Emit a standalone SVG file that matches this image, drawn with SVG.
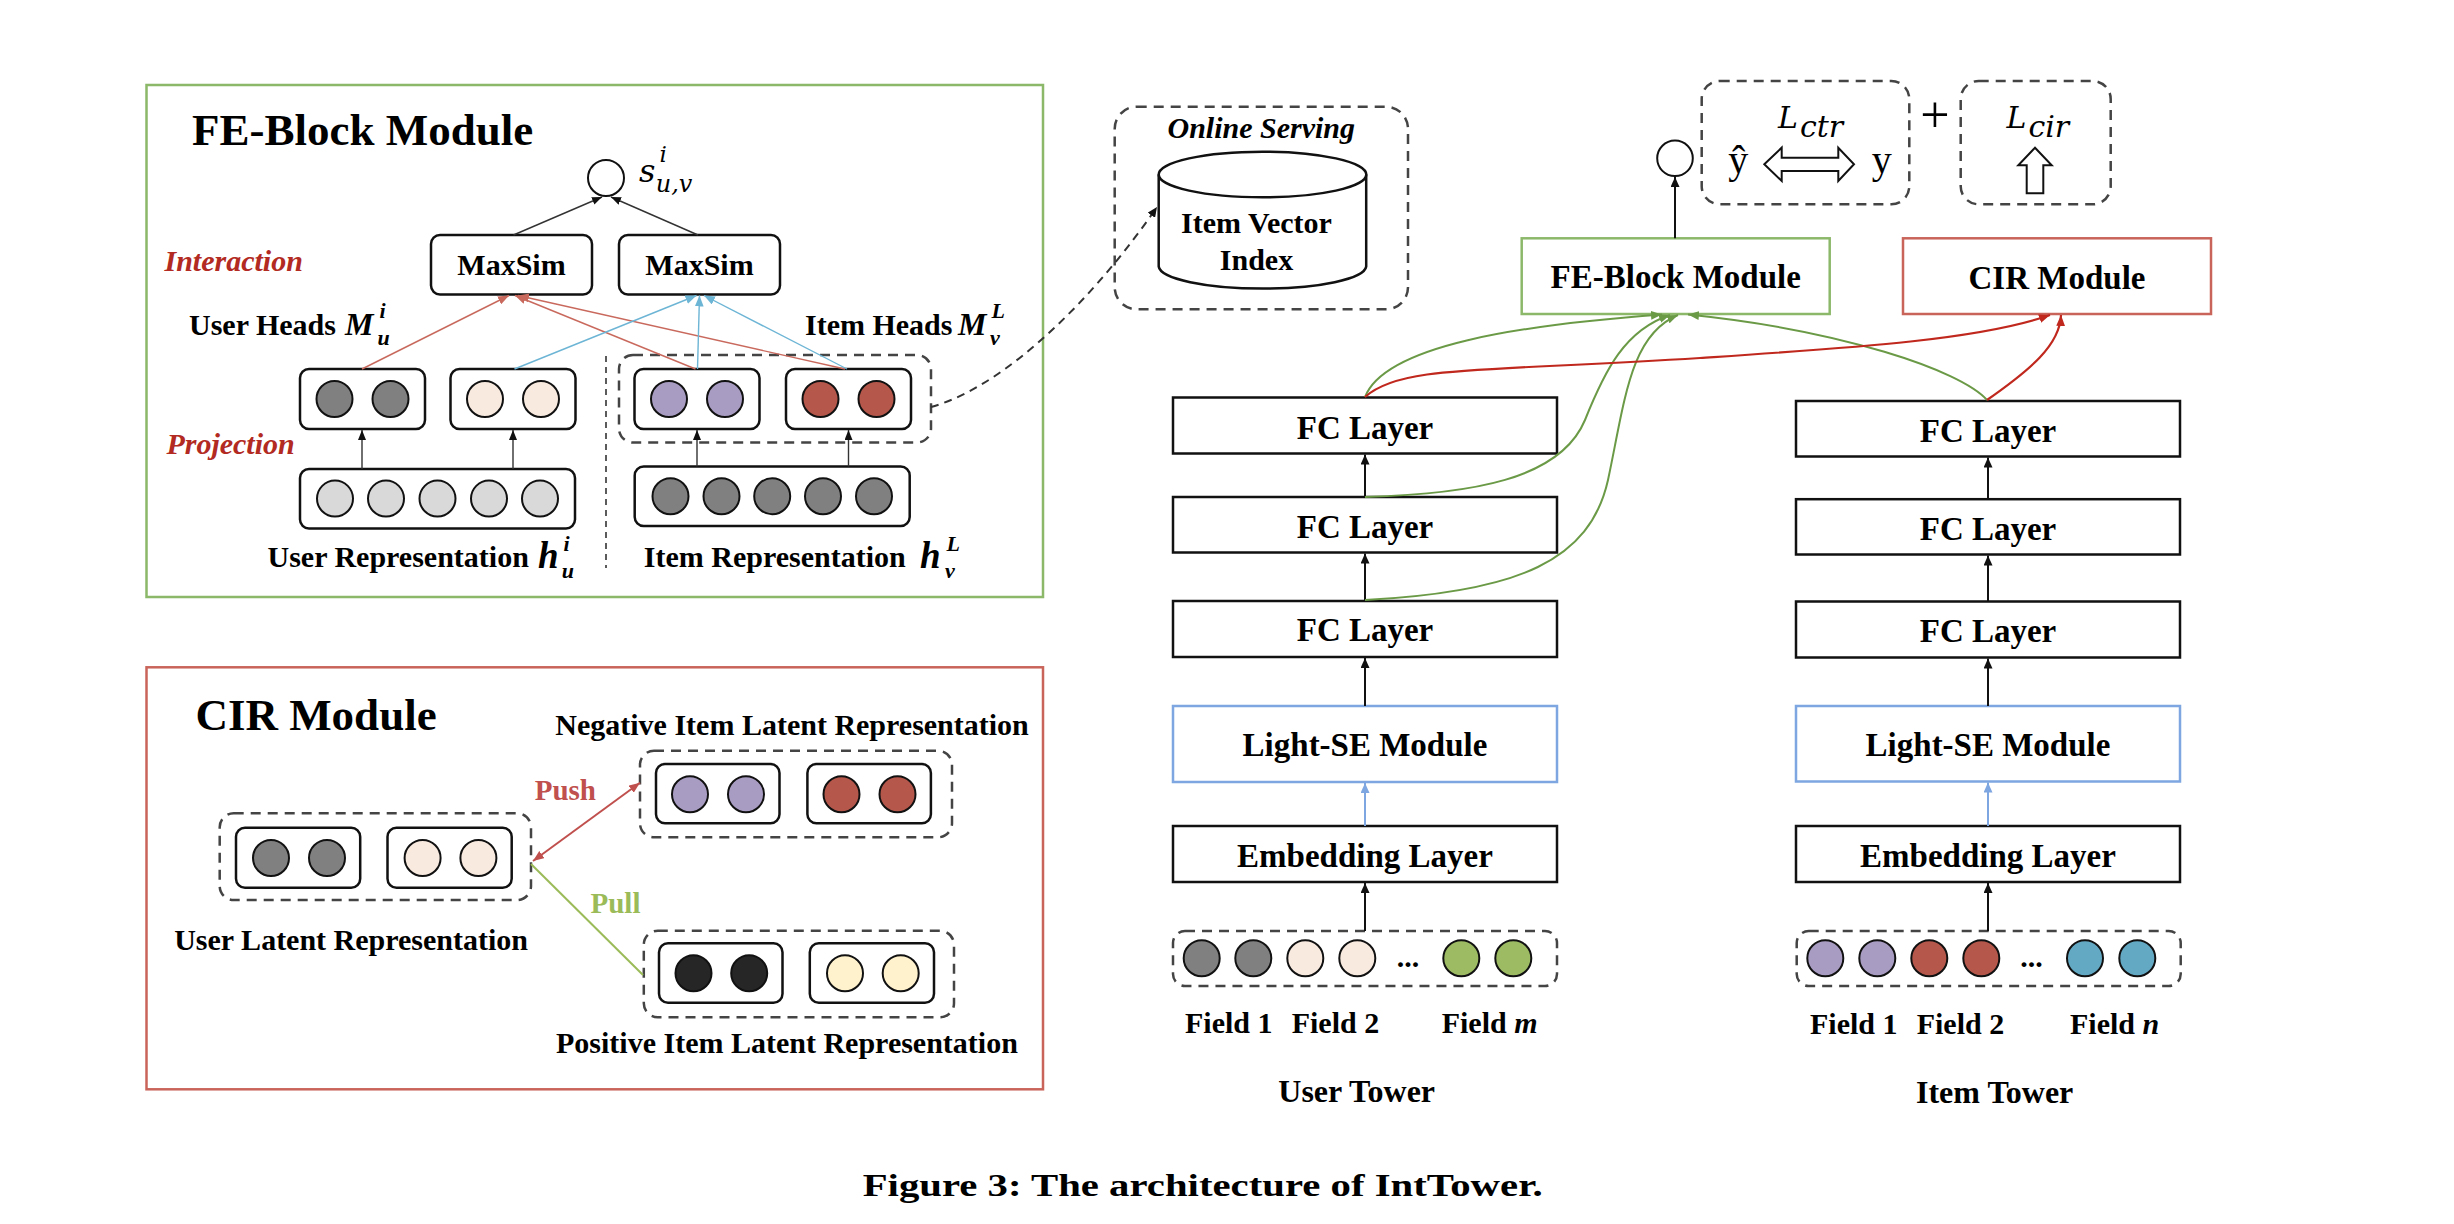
<svg xmlns="http://www.w3.org/2000/svg" width="2454" height="1224" viewBox="0 0 2454 1224">
<defs>
<style>
text{font-family:"Liberation Serif","Times New Roman",serif;fill:#000}
.t30{font-size:30px;font-weight:bold}
.t33{font-size:33px;font-weight:bold}
.title{font-size:45px;font-weight:bold}
.lab{font-size:30px;font-weight:bold;font-style:italic;fill:#b22a22}
.mb{font-weight:bold;font-style:italic}
.mi{font-family:"DejaVu Serif",serif;font-style:italic}
.box{fill:#fff;stroke:#111;stroke-width:2.5}
.rb{fill:#fff;stroke:#111;stroke-width:2.5}
.dash{fill:none;stroke:#444;stroke-width:2.5;stroke-dasharray:10 7}
.cc{stroke:#111;stroke-width:2}
.dg{fill:#808080}.lg{fill:#d9d9d9}.pe{fill:#f9eadf}.lv{fill:#a89cc2}.rd{fill:#b5574b}.gr{fill:#9dbb62}.tl{fill:#63a9c4}.bk{fill:#262626}.cr{fill:#fff2cc}
.ar{fill:none;stroke:#111;stroke-width:2;marker-end:url(#ak)}
.thin{fill:none;stroke:#333;stroke-width:1.4;marker-end:url(#aks)}
.rl{fill:none;stroke:#c9695d;stroke-width:1.4;marker-end:url(#ars)}
.bl{fill:none;stroke:#6db5d5;stroke-width:1.4;marker-end:url(#abs)}
.gc{fill:none;stroke:#6b9a47;stroke-width:2;marker-end:url(#ag)}
.rc{fill:none;stroke:#c0281e;stroke-width:2.2;marker-end:url(#arc)}
</style>
<marker id="ak" viewBox="0 0 10 9" refX="10" refY="4.5" markerWidth="10" markerHeight="9" markerUnits="userSpaceOnUse" orient="auto"><path d="M0,0L10,4.5L0,9z" fill="#111"/></marker>
<marker id="akb" viewBox="0 0 10 9" refX="10" refY="4.5" markerWidth="10" markerHeight="9" markerUnits="userSpaceOnUse" orient="auto"><path d="M0,0L10,4.5L0,9z" fill="#7ea6e0"/></marker>
<marker id="aks" viewBox="0 0 10 8" refX="10" refY="4" markerWidth="10" markerHeight="8" markerUnits="userSpaceOnUse" orient="auto"><path d="M0,0L10,4L0,8z" fill="#111"/></marker>
<marker id="ars" viewBox="0 0 10 8" refX="10" refY="4" markerWidth="11" markerHeight="9" markerUnits="userSpaceOnUse" orient="auto"><path d="M0,0L10,4L0,8z" fill="#c9695d"/></marker>
<marker id="abs" viewBox="0 0 10 8" refX="10" refY="4" markerWidth="11" markerHeight="9" markerUnits="userSpaceOnUse" orient="auto"><path d="M0,0L10,4L0,8z" fill="#6db5d5"/></marker>
<marker id="ag" viewBox="0 0 10 8" refX="10" refY="4" markerWidth="11" markerHeight="9" markerUnits="userSpaceOnUse" orient="auto"><path d="M0,0L10,4L0,8z" fill="#6b9a47"/></marker>
<marker id="arc" viewBox="0 0 10 8" refX="10" refY="4" markerWidth="11" markerHeight="9" markerUnits="userSpaceOnUse" orient="auto"><path d="M0,0L10,4L0,8z" fill="#c0281e"/></marker>
<marker id="ap" viewBox="0 0 10 8" refX="10" refY="4" markerWidth="11" markerHeight="9" markerUnits="userSpaceOnUse" orient="auto-start-reverse"><path d="M0,0L10,4L0,8z" fill="#c0504d"/></marker>
</defs>
<rect width="2454" height="1224" fill="#fff"/>

<!-- FE-Block panel -->
<g id="fe-panel">
<rect x="146.5" y="85" width="896.5" height="512" fill="none" stroke="#8cb86a" stroke-width="2.5"/>
<text x="192" y="144.5" class="title">FE-Block Module</text>
<text x="164.5" y="271" class="lab">Interaction</text>
<text x="166.4" y="454" class="lab">Projection</text>
</g>
<g id="score">
<circle cx="606" cy="178" r="18" fill="#fff" class="cc"/>
<text x="639" y="182" class="mi" font-size="32">s<tspan font-size="23" dx="4" dy="-20">i</tspan><tspan font-size="24" dx="-11" dy="30">u,v</tspan></text>
</g>
<g id="maxsim1"><rect x="431" y="235" width="161" height="59.5" rx="9" class="rb"/><text x="511.5" y="275" class="t30" text-anchor="middle">MaxSim</text></g>
<g id="maxsim2"><rect x="619" y="235" width="161" height="59.5" rx="9" class="rb"/><text x="699.5" y="275" class="t30" text-anchor="middle">MaxSim</text></g>
<g id="user-heads-label">
<text x="189" y="335" class="t30">User Heads</text>
<text x="345" y="335" class="mb" font-size="32">M<tspan font-size="22" dx="6" dy="-17">i</tspan><tspan font-size="22" dx="-8" dy="27">u</tspan></text>
</g>
<g id="item-heads-label">
<text x="805" y="335" class="t30">Item Heads</text>
<text x="958" y="335" class="mb" font-size="32">M<tspan font-size="22" dx="5" dy="-17">L</tspan><tspan font-size="22" dx="-15" dy="27">v</tspan></text>
</g>
<g id="user-heads">
<rect x="300" y="369" width="125" height="60" rx="9" class="rb"/>
<circle cx="334.5" cy="399" r="18" class="dg cc"/><circle cx="390.5" cy="399" r="18" class="dg cc"/>
<rect x="450.5" y="369" width="125" height="60" rx="9" class="rb"/>
<circle cx="485" cy="399" r="18" class="pe cc"/><circle cx="541" cy="399" r="18" class="pe cc"/>
</g>
<g id="item-heads">
<rect x="619" y="355" width="312" height="87.5" rx="14" class="dash"/>
<rect x="634.5" y="369" width="125" height="60" rx="9" class="rb"/>
<circle cx="669" cy="399" r="18" class="lv cc"/><circle cx="725" cy="399" r="18" class="lv cc"/>
<rect x="786" y="369" width="125" height="60" rx="9" class="rb"/>
<circle cx="820.5" cy="399" r="18" class="rd cc"/><circle cx="876.5" cy="399" r="18" class="rd cc"/>
</g>
<g id="user-repr">
<rect x="300" y="469" width="275" height="59.5" rx="9" class="rb"/>
<circle cx="335" cy="498.6" r="18" class="lg cc"/><circle cx="386" cy="498.6" r="18" class="lg cc"/><circle cx="437.5" cy="498.6" r="18" class="lg cc"/><circle cx="489" cy="498.6" r="18" class="lg cc"/><circle cx="540" cy="498.6" r="18" class="lg cc"/>
<text x="267.5" y="567.4" class="t30">User Representation</text>
<text x="538" y="568" class="mb" font-size="37">h<tspan font-size="22" dx="5" dy="-17">i</tspan><tspan font-size="22" dx="-8" dy="27">u</tspan></text>
</g>
<g id="item-repr">
<rect x="634.7" y="466.5" width="275" height="59.5" rx="9" class="rb"/>
<circle cx="670.5" cy="496.2" r="18" class="dg cc"/><circle cx="721.5" cy="496.2" r="18" class="dg cc"/><circle cx="772.2" cy="496.2" r="18" class="dg cc"/><circle cx="823" cy="496.2" r="18" class="dg cc"/><circle cx="874" cy="496.2" r="18" class="dg cc"/>
<text x="643.8" y="567.4" class="t30">Item Representation</text>
<text x="920" y="568" class="mb" font-size="37">h<tspan font-size="22" dx="6" dy="-17">L</tspan><tspan font-size="22" dx="-15" dy="27">v</tspan></text>
</g>

<!-- CIR panel -->
<g id="cir-panel">
<rect x="146.5" y="667.3" width="896.5" height="422" fill="none" stroke="#c9645a" stroke-width="2.5"/>
<text x="195.4" y="730" class="title">CIR Module</text>
</g>
<g id="neg-latent">
<text x="555.3" y="735" class="t30">Negative Item Latent Representation</text>
<rect x="640" y="750.7" width="312" height="86.6" rx="14" class="dash"/>
<rect x="656" y="764" width="123.5" height="59.3" rx="9" class="rb"/>
<circle cx="690" cy="794.3" r="18" class="lv cc"/><circle cx="746" cy="794.3" r="18" class="lv cc"/>
<rect x="807.4" y="764" width="123.5" height="59.3" rx="9" class="rb"/>
<circle cx="841.5" cy="794.3" r="18" class="rd cc"/><circle cx="897.5" cy="794.3" r="18" class="rd cc"/>
</g>
<g id="user-latent">
<rect x="219.7" y="813.3" width="311.3" height="86.7" rx="14" class="dash"/>
<rect x="236" y="827.7" width="124.2" height="60" rx="9" class="rb"/>
<circle cx="271" cy="858" r="18" class="dg cc"/><circle cx="327" cy="858" r="18" class="dg cc"/>
<rect x="387.5" y="827.7" width="124.2" height="60" rx="9" class="rb"/>
<circle cx="422.6" cy="858" r="18" class="pe cc"/><circle cx="478.4" cy="858" r="18" class="pe cc"/>
<text x="174.2" y="950" class="t30">User Latent Representation</text>
</g>
<g id="pos-latent">
<rect x="643.8" y="930.7" width="310.2" height="86.6" rx="14" class="dash"/>
<rect x="659" y="943.3" width="123.5" height="59.4" rx="9" class="rb"/>
<circle cx="693.5" cy="973.3" r="18" class="bk cc"/><circle cx="749.2" cy="973.3" r="18" class="bk cc"/>
<rect x="809.8" y="943.3" width="124.2" height="59.4" rx="9" class="rb"/>
<circle cx="845" cy="973.3" r="18" class="cr cc"/><circle cx="900.7" cy="973.3" r="18" class="cr cc"/>
<text x="556" y="1053.3" class="t30">Positive Item Latent Representation</text>
</g>

<!-- Online serving -->
<g id="online-serving">
<rect x="1114.7" y="106.7" width="293.3" height="202.6" rx="22" class="dash"/>
<text x="1167.5" y="138.3" font-size="30" font-weight="bold" font-style="italic">Online Serving</text>
<path d="M1158.7,174.5 L1158.7,266.5 A103.8,22.8 0 0 0 1366.2,266.5 L1366.2,174.5" fill="#fff" stroke="#111" stroke-width="2.5"/>
<ellipse cx="1262.5" cy="174.5" rx="103.8" ry="22.8" fill="#fff" stroke="#111" stroke-width="2.5"/>
<text x="1256.5" y="233.3" class="t30" text-anchor="middle">Item Vector</text>
<text x="1256.5" y="270" class="t30" text-anchor="middle">Index</text>
</g>

<!-- Loss -->
<g id="output">
<circle cx="1675" cy="158.3" r="17.8" fill="#fff" class="cc"/>
</g>
<g id="loss-ctr">
<rect x="1701.7" y="81" width="207.6" height="123.3" rx="18" class="dash"/>
<text x="1778" y="127.7" class="mi" font-size="30">L<tspan font-size="30" dx="2" dy="9">ctr</tspan></text>
<text x="1728.3" y="172.7" font-size="40">ŷ</text>
<polygon points="1764.3,164.3 1781.7,147.7 1781.7,157.7 1838.3,157.7 1838.3,147.7 1854,164.3 1838.3,181 1838.3,171 1781.7,171 1781.7,181" fill="#fff" stroke="#111" stroke-width="2"/>
<text x="1871.7" y="172.7" font-size="40">y</text>
</g>
<text x="1935" y="131.5" font-size="52" text-anchor="middle">+</text>
<g id="loss-cir">
<rect x="1960.7" y="81" width="150" height="123.3" rx="18" class="dash"/>
<text x="2006.5" y="127.7" class="mi" font-size="30">L<tspan font-size="30" dx="2" dy="9">cir</tspan></text>
<polygon points="2035,147.7 2051.7,165.3 2043.3,165.3 2043.3,193.3 2026.7,193.3 2026.7,165.3 2018.3,165.3" fill="#fff" stroke="#111" stroke-width="2"/>
</g>
<g id="fe-block"><rect x="1521.7" y="238.3" width="308" height="75.7" fill="#fff" stroke="#8cb86a" stroke-width="2.5"/><text x="1675.7" y="287.7" class="t33" text-anchor="middle">FE-Block Module</text></g>
<g id="cir-module"><rect x="1903" y="238.3" width="308" height="75.7" fill="#fff" stroke="#c9645a" stroke-width="2.5"/><text x="2057" y="289" class="t33" text-anchor="middle">CIR Module</text></g>

<!-- User tower -->
<g id="u-fc1"><rect x="1173" y="397.5" width="384" height="56" class="box"/><text x="1365" y="438.5" class="t33" text-anchor="middle">FC Layer</text></g>
<g id="u-fc2"><rect x="1173" y="497" width="384" height="55.5" class="box"/><text x="1365" y="537.5" class="t33" text-anchor="middle">FC Layer</text></g>
<g id="u-fc3"><rect x="1173" y="601" width="384" height="56" class="box"/><text x="1365" y="641" class="t33" text-anchor="middle">FC Layer</text></g>
<g id="u-se"><rect x="1173" y="706" width="384" height="76" fill="#fff" stroke="#7ea6e0" stroke-width="2.5"/><text x="1365" y="756" class="t33" text-anchor="middle">Light-SE Module</text></g>
<g id="u-emb"><rect x="1173" y="826" width="384" height="56" class="box"/><text x="1365" y="867" class="t33" text-anchor="middle">Embedding Layer</text></g>
<g id="u-fields">
<rect x="1173" y="931" width="384" height="55" rx="12" class="dash"/>
<circle cx="1201.7" cy="958.3" r="18" class="dg cc"/><circle cx="1253.3" cy="958.3" r="18" class="dg cc"/>
<circle cx="1305.3" cy="958.3" r="18" class="pe cc"/><circle cx="1357.3" cy="958.3" r="18" class="pe cc"/>
<text x="1408" y="967" class="t30" text-anchor="middle">...</text>
<circle cx="1461.3" cy="958.3" r="18" class="gr cc"/><circle cx="1513.3" cy="958.3" r="18" class="gr cc"/>
<text x="1185" y="1033" class="t30">Field 1</text>
<text x="1291.7" y="1033" class="t30">Field 2</text>
<text x="1441.7" y="1033" class="t30">Field <tspan font-style="italic">m</tspan></text>
<text x="1278.3" y="1102" font-size="32" font-weight="bold">User Tower</text>
</g>

<!-- Item tower -->
<g id="i-fc1"><rect x="1796" y="401" width="384" height="55.5" class="box"/><text x="1988" y="441.5" class="t33" text-anchor="middle">FC Layer</text></g>
<g id="i-fc2"><rect x="1796" y="499.2" width="384" height="55.3" class="box"/><text x="1988" y="539.5" class="t33" text-anchor="middle">FC Layer</text></g>
<g id="i-fc3"><rect x="1796" y="601.5" width="384" height="56" class="box"/><text x="1988" y="642" class="t33" text-anchor="middle">FC Layer</text></g>
<g id="i-se"><rect x="1796" y="706" width="384" height="75.5" fill="#fff" stroke="#7ea6e0" stroke-width="2.5"/><text x="1988" y="756" class="t33" text-anchor="middle">Light-SE Module</text></g>
<g id="i-emb"><rect x="1796" y="826" width="384" height="56" class="box"/><text x="1988" y="867" class="t33" text-anchor="middle">Embedding Layer</text></g>
<g id="i-fields">
<rect x="1796.7" y="931" width="384" height="55" rx="12" class="dash"/>
<circle cx="1825.3" cy="958.3" r="18" class="lv cc"/><circle cx="1877.3" cy="958.3" r="18" class="lv cc"/>
<circle cx="1929.3" cy="958.3" r="18" class="rd cc"/><circle cx="1981.3" cy="958.3" r="18" class="rd cc"/>
<text x="2031.5" y="967" class="t30" text-anchor="middle">...</text>
<circle cx="2085" cy="958.3" r="18" class="tl cc"/><circle cx="2137.3" cy="958.3" r="18" class="tl cc"/>
<text x="1810" y="1034.4" class="t30">Field 1</text>
<text x="1916.7" y="1034.4" class="t30">Field 2</text>
<text x="2070" y="1034.4" class="t30">Field <tspan font-style="italic">n</tspan></text>
<text x="1916" y="1103" font-size="32" font-weight="bold">Item Tower</text>
</g>

<!-- Connectors -->
<g id="connectors">
<line x1="513.5" y1="235" x2="602" y2="197" class="thin"/>
<line x1="698" y1="235" x2="611" y2="197" class="thin"/>
<line x1="362" y1="369" x2="509" y2="295.5" class="rl"/>
<line x1="695.5" y1="369" x2="515" y2="295.5" class="rl"/>
<line x1="845" y1="369" x2="518" y2="295.5" class="rl"/>
<line x1="514.5" y1="369" x2="696.5" y2="295.5" class="bl"/>
<line x1="697.5" y1="369" x2="699.5" y2="295.5" class="bl"/>
<line x1="847" y1="369" x2="704" y2="295.5" class="bl"/>
<line x1="362" y1="469" x2="362" y2="430" class="thin" stroke="#555"/>
<line x1="513" y1="469" x2="513" y2="430" class="thin" stroke="#555"/>
<line x1="697" y1="466.5" x2="697" y2="430" class="thin" stroke="#555"/>
<line x1="848.5" y1="466.5" x2="848.5" y2="430" class="thin" stroke="#555"/>
<line x1="606" y1="356" x2="606" y2="568" stroke="#333" stroke-width="1.6" stroke-dasharray="6 5"/>
<path d="M931,407 C1010,385 1100,290 1157,207" fill="none" stroke="#333" stroke-width="2" stroke-dasharray="8 6" marker-end="url(#ak)"/>
<line x1="533" y1="861" x2="640" y2="782.7" stroke="#c0504d" stroke-width="2" marker-start="url(#ap)" marker-end="url(#ap)"/>
<text x="534.7" y="800" font-size="29" font-weight="bold" style="fill:#c0504d">Push</text>
<line x1="531" y1="864" x2="643" y2="975" stroke="#9bbb59" stroke-width="2"/>
<text x="590.5" y="912.7" font-size="29" font-weight="bold" style="fill:#9bbb59">Pull</text>
<line x1="1675" y1="238.3" x2="1675" y2="177" class="ar"/>
<line x1="1365" y1="931" x2="1365" y2="883" class="ar"/>
<line x1="1365" y1="826" x2="1365" y2="783" stroke="#7ea6e0" stroke-width="2" marker-end="url(#akb)"/>
<line x1="1365" y1="706" x2="1365" y2="658" class="ar"/>
<line x1="1365" y1="601" x2="1365" y2="553.5" class="ar"/>
<line x1="1365" y1="497" x2="1365" y2="454.5" class="ar"/>
<line x1="1988" y1="931" x2="1988" y2="883" class="ar"/>
<line x1="1988" y1="826" x2="1988" y2="782.5" stroke="#7ea6e0" stroke-width="2" marker-end="url(#akb)"/>
<line x1="1988" y1="706" x2="1988" y2="658.5" class="ar"/>
<line x1="1988" y1="601.5" x2="1988" y2="555.5" class="ar"/>
<line x1="1988" y1="499.2" x2="1988" y2="457.5" class="ar"/>
<path d="M1365,397 C1385,345 1520,325 1662,314.5" class="gc"/>
<path d="M1365,497 C1470,494 1560,480 1585,420 C1605,370 1625,330 1670,315" class="gc"/>
<path d="M1365,600 C1520,592 1590,560 1608,480 C1625,400 1630,335 1678,315" class="gc"/>
<path d="M1987,400 C1960,370 1840,330 1688,314.5" class="gc"/>
<path d="M1365,397 C1400,365 1480,372 1700,358 C1850,348 1980,340 2050,315" class="rc"/>
<path d="M1987,400 C2030,370 2060,345 2061,315" class="rc"/>
</g>

<text x="862.7" y="1196" font-weight="bold" font-size="32" textLength="680" lengthAdjust="spacingAndGlyphs">Figure 3: The architecture of IntTower.</text>
</svg>
